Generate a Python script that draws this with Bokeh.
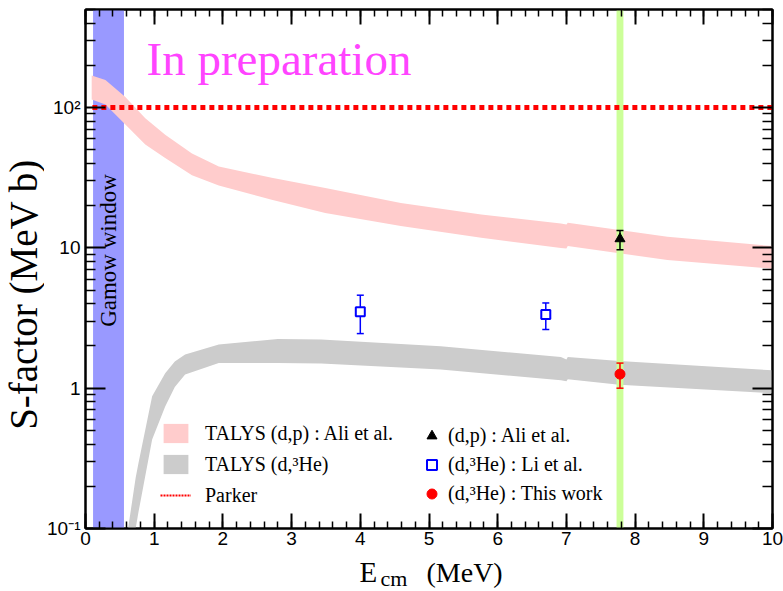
import math
from bokeh.plotting import figure
from bokeh.layouts import row, column
from bokeh.models import (Range1d, LinearAxis, LogAxis, FixedTicker, CustomJSTickFormatter,
                          BoxAnnotation, Label, Legend, LegendItem, Whisker, TeeHead,
                          ColumnDataSource, CustomLabelingPolicy)
from bokeh.embed import file_html
from bokeh.resources import INLINE

# ---------------- data ----------------
# TALYS (d,p) : Ali et al. band (E_cm in MeV, S in MeV b)
dp_e = [0.09, 0.29, 0.58, 0.87, 1.16, 1.55, 1.94, 2.71, 3.49, 4.59, 5.76, 6.92, 7.0, 7.02, 8.47, 10.0]
dp_lo = [114, 105, 75.7, 54.5, 43.8, 33.0, 27.8, 22.0, 17.7, 14.3, 11.8, 10.0, 9.9, 10.3, 8.2, 7.1]
dp_hi = [169, 157, 119, 84.0, 64.0, 47.0, 38.0, 31.6, 26.7, 20.9, 17.3, 14.9, 14.7, 15.1, 12.0, 10.3]

# TALYS (d,3He) band
he_e = [0.62, 0.73, 0.77, 0.97, 1.16, 1.3, 1.45, 1.94, 2.8, 3.43, 5.17, 6.92, 7.0, 7.02, 7.77, 10.0]
he_lo = [0.05, 0.10, 0.13, 0.43, 0.74, 1.02, 1.25, 1.51, 1.51, 1.50, 1.36, 1.14, 1.12, 1.16, 1.06, 0.92]
he_hi = [0.10, 0.23, 0.29, 0.875, 1.28, 1.55, 1.74, 2.05, 2.24, 2.22, 1.99, 1.67, 1.60, 1.67, 1.56, 1.34]

# Parker
parker_e = [0.1, 10.0]
parker_s = [100.0, 100.0]

# (d,p) : Ali et al.
ali_e = [7.78]
ali_s = [11.6]
ali_lo = [9.7]
ali_hi = [13.3]

# (d,3He) : Li et al.
li_e = [4.0, 6.7]
li_s = [3.5, 3.35]
li_lo = [2.45, 2.62]
li_hi = [4.6, 4.05]

# (d,3He) : This work
tw_e = [7.78]
tw_s = [1.26]
tw_lo = [1.0]
tw_hi = [1.51]

# Gamow window and measured energy band
gamow = [0.11, 0.56]
meas = [7.73, 7.83]

x_ticks = [0, 1, 2, 3, 4, 5, 6, 7, 8, 9, 10]
x_tick_labels = ["0", "1", "2", "3", "4", "5", "6", "7", "8", "9", "10"]
y_ticks = [0.1, 1, 10, 100]
y_tick_labels = ["10\u207b\u00b9", "1", "10", "10\u00b2"]

serif = "Liberation Serif"

# ---------------- main figure ----------------
p = figure(width=739, height=553, x_range=Range1d(0, 10), y_range=Range1d(0.1, 500),
           y_axis_type="log", output_backend="svg", toolbar_location=None,
           min_border_left=40, min_border_right=11, min_border_top=9, min_border_bottom=25)
p.grid.visible = False
p.outline_line_color = "black"
p.outline_line_width = 2
p.background_fill_color = "white"

x_minor = [i * 0.2 for i in range(51)]
y_minor = [m * 10 ** k for k in range(-1, 3) for m in range(2, 10) if m * 10 ** k <= 500]

xfmt = CustomJSTickFormatter(args=dict(v=x_ticks, l=x_tick_labels), code="""
const i = v.indexOf(tick); return i >= 0 ? l[i] : String(tick);""")
yfmt = CustomJSTickFormatter(args=dict(v=y_ticks, l=y_tick_labels), code="""
for (let i = 0; i < v.length; i++) { if (Math.abs(v[i] - tick) < 1e-9 * v[i]) return l[i]; }
return String(tick);""")
hide_all = CustomLabelingPolicy(code="""
for (const i of indices) indices.unset(i)
return indices
""")


def style(ax, maj, mnr, show, ticker, fmt=None, standoff=5):
    ax.ticker = ticker
    ax.axis_line_width = 2
    ax.axis_line_color = "black"
    ax.major_tick_in = maj
    ax.major_tick_out = 0
    ax.minor_tick_in = mnr
    ax.minor_tick_out = 0
    ax.major_tick_line_width = 2
    ax.minor_tick_line_width = 1.5
    ax.major_tick_line_color = "black"
    ax.minor_tick_line_color = "black"
    ax.axis_label = None
    if show:
        ax.formatter = fmt
        ax.major_label_text_font = "Liberation Sans"
        ax.major_label_text_font_size = "19px"
        ax.major_label_text_color = "black"
        ax.major_label_standoff = standoff
    else:
        ax.major_label_policy = hide_all
        ax.major_label_text_font_size = "2px"
        ax.major_label_standoff = 0


style(p.xaxis[0], 15, 7, True, FixedTicker(ticks=x_ticks, minor_ticks=x_minor), xfmt, 3)
style(p.yaxis[0], 20, 10, True, FixedTicker(ticks=y_ticks, minor_ticks=y_minor), yfmt, 5)
top = LinearAxis()
style(top, 15, 7, False, FixedTicker(ticks=x_ticks, minor_ticks=x_minor))
p.add_layout(top, "above")
right = LogAxis()
style(right, 20, 10, False, FixedTicker(ticks=y_ticks, minor_ticks=y_minor))
p.add_layout(right, "right")

# Gamow window (blue)
gw = BoxAnnotation(left=gamow[0], right=gamow[1], fill_color="#9999ff", fill_alpha=1.0,
                   line_color=None, level="glyph")
p.renderers.append(gw)

# bands
r_dp = p.varea(x=dp_e, y1=dp_lo, y2=dp_hi, fill_color="#ffcccc", fill_alpha=1.0)
r_he = p.varea(x=he_e, y1=he_lo, y2=he_hi, fill_color="#cccccc", fill_alpha=1.0)

# measured energy (green)
gb = BoxAnnotation(left=meas[0], right=meas[1], fill_color="#ccff99", fill_alpha=1.0,
                   line_color=None, level="glyph")
p.renderers.append(gb)

# Parker
p.line(x=parker_e, y=parker_s, line_color="#ff0000", line_width=5, line_dash="5 4")
# thin dotted sample used only for the legend entry (a single point draws no line)
r_parker_leg = p.line(x=parker_e[:1], y=parker_s[:1], line_color="#ff0000", line_width=2,
                      line_dash="2 1")


def add_err(xs, lo, hi, color):
    src = ColumnDataSource(dict(x=xs, lower=lo, upper=hi))
    w = Whisker(source=src, base="x", lower="lower", upper="upper",
                line_color=color, line_width=1.5, level="glyph",
                upper_head=TeeHead(size=7, line_color=color, line_width=1.5),
                lower_head=TeeHead(size=7, line_color=color, line_width=1.5))
    p.renderers.append(w)


add_err(ali_e, ali_lo, ali_hi, "black")
add_err(li_e, li_lo, li_hi, "#0000ff")
add_err(tw_e, tw_lo, tw_hi, "#ff0000")

r_ali = p.scatter(x=ali_e, y=ali_s, marker="triangle", size=10, fill_color="black", line_color="black")
r_li = p.scatter(x=li_e, y=li_s, marker="square", size=9, fill_color="white",
                 line_color="#0000ff", line_width=2)
r_tw = p.scatter(x=tw_e, y=tw_s, marker="circle", size=10, fill_color="#ff0000", line_color="#ff0000")

# ---------------- texts inside the frame ----------------
p.add_layout(Label(x=61, y=470, x_units="screen", y_units="screen", text="In preparation",
                   text_font=serif, text_font_size="47px", text_color="#ff44ff",
                   text_baseline="alphabetic", text_align="left"))
p.add_layout(Label(x=23, y=278, x_units="screen", y_units="screen", text="Gamow window",
                   angle=math.pi / 2, text_font=serif, text_font_size="23px", text_color="black",
                   text_baseline="alphabetic", text_align="center"))

# ---------------- legends ----------------
leg1 = Legend(items=[LegendItem(label="TALYS (d,p) : Ali et al.", renderers=[r_dp]),
                     LegendItem(label="TALYS (d,\u00b3He)", renderers=[r_he]),
                     LegendItem(label="Parker", renderers=[r_parker_leg])],
              location=(75, 21), glyph_width=31, glyph_height=24, spacing=7, padding=0,
              margin=0, label_standoff=14, border_line_alpha=0, background_fill_alpha=0,
              label_text_font=serif, label_text_font_size="20px", label_text_color="black")
leg2 = Legend(items=[LegendItem(label="(d,p) : Ali et al.", renderers=[r_ali]),
                     LegendItem(label="(d,\u00b3He) : Li et al.", renderers=[r_li]),
                     LegendItem(label="(d,\u00b3He) : This work", renderers=[r_tw])],
              location=(334, 22), glyph_width=25, glyph_height=25, spacing=4, padding=0,
              margin=0, label_standoff=4, border_line_alpha=0, background_fill_alpha=0,
              label_text_font=serif, label_text_font_size="20px", label_text_color="black")
p.add_layout(leg1)
p.add_layout(leg2)

# ---------------- axis titles (separate strips) ----------------
ylab = figure(width=44, height=591, x_range=Range1d(0, 1), y_range=Range1d(0, 1),
              output_backend="svg", toolbar_location=None, x_axis_location=None,
              y_axis_location=None, min_border=0, outline_line_color=None)
ylab.grid.visible = False
ylab.add_layout(Label(x=23, y=297, x_units="screen", y_units="screen", text="S-factor (MeV b)",
                      angle=math.pi / 2, text_font=serif, text_font_size="39px",
                      text_color="black", text_baseline="alphabetic", text_align="center"))

# this strip's frame is aligned with the main frame (starts at the x = 0 position)
xlab = figure(width=739, height=38, x_range=Range1d(0, 1), y_range=Range1d(0, 1),
              output_backend="svg", toolbar_location=None, x_axis_location=None,
              y_axis_location=None, min_border=0, outline_line_color=None)
xlab.grid.visible = False
xlab.add_layout(Label(x=274, y=20, x_units="screen", y_units="screen", text="E",
                      text_font=serif, text_font_size="29px", text_color="black",
                      text_baseline="alphabetic", text_align="left"))
xlab.add_layout(Label(x=295, y=13, x_units="screen", y_units="screen", text="cm",
                      text_font=serif, text_font_size="22px", text_color="black",
                      text_baseline="alphabetic", text_align="left"))
xlab.add_layout(Label(x=341, y=19, x_units="screen", y_units="screen", text="(MeV)",
                      text_font=serif, text_font_size="28px", text_color="black",
                      text_baseline="alphabetic", text_align="left"))

layout = row(ylab, column(p, xlab, spacing=0), spacing=0)

open("out.html", "w").write(file_html(layout, INLINE))
